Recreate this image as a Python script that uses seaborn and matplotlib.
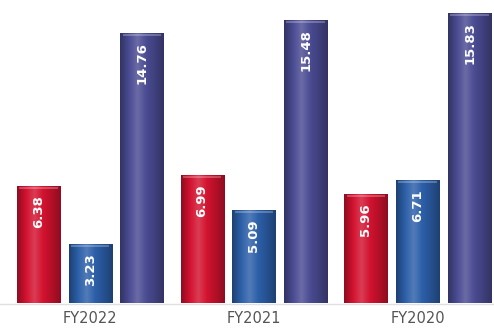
import numpy as np
import pandas as pd
import matplotlib
matplotlib.use("Agg")
import matplotlib.pyplot as plt
import seaborn as sns
from matplotlib.colors import LinearSegmentedColormap, to_rgb

years = ["FY2022", "FY2021", "FY2020"]
series = ["A", "B", "C"]
vals_a = [6.38, 6.99, 5.96]
vals_b = [3.23, 5.09, 6.71]
vals_c = [14.76, 15.48, 15.83]
colors = ["#d2122f", "#2c5fa8", "#4a4b92"]

rows = []
for i, y in enumerate(years):
    rows.append((y, "A", vals_a[i]))
    rows.append((y, "B", vals_b[i]))
    rows.append((y, "C", vals_c[i]))
df = pd.DataFrame(rows, columns=["year", "series", "value"])

sns.set_style("white")
fig = plt.figure(figsize=(4.94, 3.29), dpi=100)
ax = fig.add_axes([0, 0, 1, 1])
sns.barplot(data=df, x="year", y="value", hue="series", order=years,
            hue_order=series, palette=colors, width=0.95, gap=0.17,
            legend=False, ax=ax, saturation=1, edgecolor="none")

ax.set_xlim(-0.55, 2.465)
ax.set_ylim(-1.42, 16.56)
ax.axis("off")

def shade(c):
    r = np.array(to_rgb(c))
    dark = r * 0.68
    light = np.clip(r + (1 - r) * 0.18, 0, 1)
    return LinearSegmentedColormap.from_list("s", [dark, r, light, r, r * 0.85, dark])

for p in list(ax.patches):
    x0, y0 = p.get_x(), p.get_y()
    w, h = p.get_width(), p.get_height()
    c = p.get_facecolor()
    grad = np.linspace(0, 1, 100).reshape(1, -1)
    im = ax.imshow(grad, extent=[x0, x0 + w, y0, y0 + h], aspect="auto",
                   cmap=shade(c), zorder=3, origin="lower")
    im.set_clip_path(p)
    ax.plot([x0 + w * 0.05, x0 + w * 0.95], [y0 + h - 0.1, y0 + h - 0.1],
            color=(1, 1, 1, 0.3), lw=1.2, zorder=4, solid_capstyle="butt")
    ax.text(x0 + w / 2, y0 + h - 0.5, f"{h:.2f}", rotation=90, ha="center",
            va="top", color="white", fontsize=9.5, fontweight="bold", zorder=5)

ax.axhline(-0.05, color="#e0e0e0", lw=1, zorder=1)
for i, y in enumerate(years):
    ax.text(i, -0.85, y, ha="center", va="center", fontsize=10.5, color="#555555")

fig.savefig("out.png", dpi=100)
